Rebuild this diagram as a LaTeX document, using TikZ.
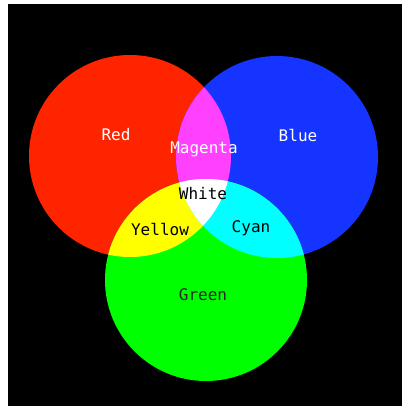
\documentclass[tikz,border=0pt]{standalone}
\usepackage{fontspec}
\newfontfamily\pixfont{DejaVu Sans Mono}
\usetikzlibrary{positioning}
\definecolor{lightred}{RGB}{255,36,0}
\definecolor{lightblue}{RGB}{22,52,255}
\definecolor{lightgreen}{RGB}{0,255,0}
\definecolor{mixmagenta}{RGB}{255,64,255}
\definecolor{mixyellow}{RGB}{255,255,0}
\definecolor{mixcyan}{RGB}{0,255,255}

\begin{document}
\begin{tikzpicture}[x=1pt, y=-1pt,
    disc/.style={circle, minimum size=202pt, inner sep=0pt},
    lbl/.style={font=\pixfont\fontsize{16}{16}\selectfont, inner sep=0pt}]
  \useasboundingbox (0,0) rectangle (402,406);
  \fill[white] (0,0) rectangle (402,406);
  \fill[black] (8,4) rectangle (402,406);

  % the three lights
  \node[disc, fill=lightred] (red) at (130,156) {};
  \node[disc, fill=lightblue] (blue) at (277,157) {};
  \node[disc, fill=lightgreen] (green) at (206,280) {};

  % two-colour overlaps
  \begin{scope}
    \clip (red.center) circle (101pt);
    \fill[mixmagenta] (blue.center) circle (101pt);
    \fill[mixyellow] (green.center) circle (101pt);
  \end{scope}
  \begin{scope}
    \clip (blue.center) circle (101pt);
    \fill[mixcyan] (green.center) circle (101pt);
  \end{scope}
  % all three
  \begin{scope}
    \clip (red.center) circle (101pt);
    \clip (blue.center) circle (101pt);
    \fill[white] (green.center) circle (101pt);
  \end{scope}

  % labels
  \node[lbl, white] (redtxt) at (116,135) {Red};
  \node[lbl, white] (bluetxt) at (298,135) {Blue};
  \node[lbl, white] (magtxt) at (204,149) {Magenta};
  \node[lbl, black] (whitetxt) at (203,194) {White};
  \node[lbl, black] (yellowtxt) at (160,229) {Yellow};
  \node[lbl, black] (cyantxt) at (251,228) {Cyan};
  \node[lbl, black!85] (greentxt) at (203,295) {Green};
\end{tikzpicture}
\end{document}
